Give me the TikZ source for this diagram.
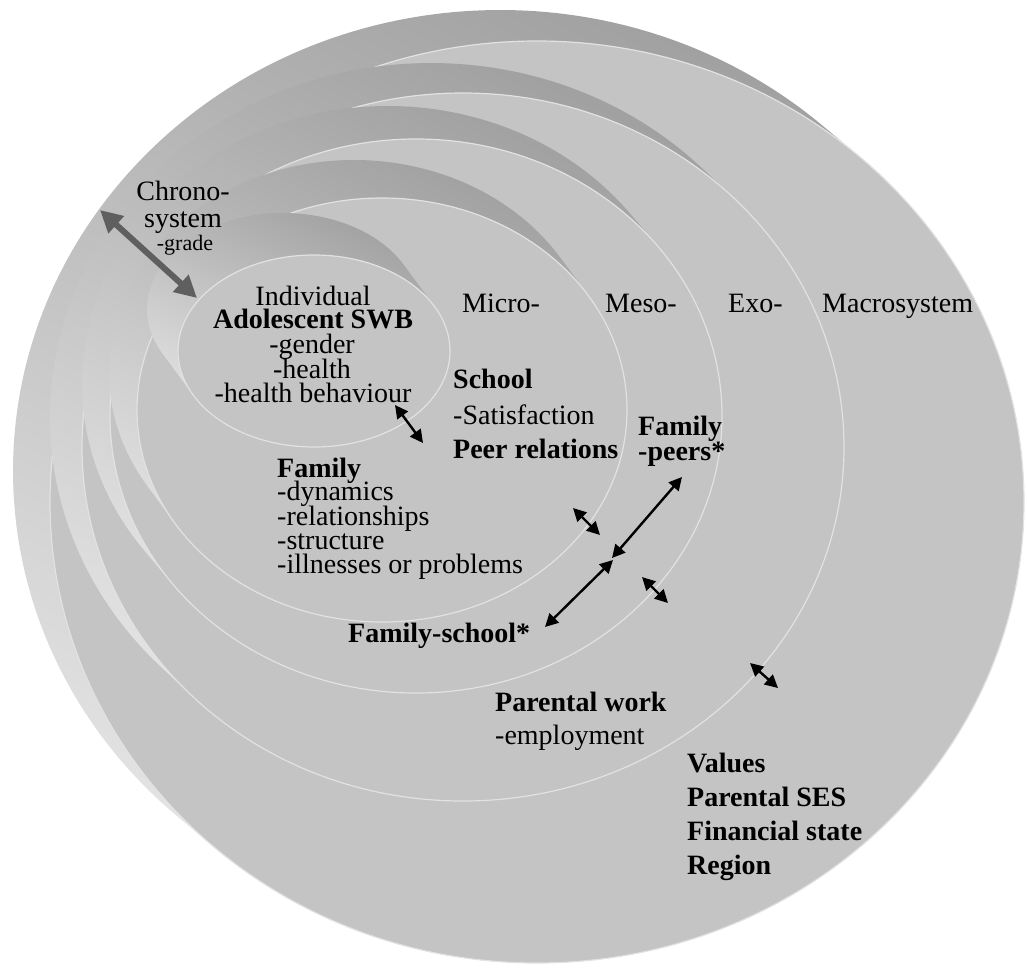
\documentclass[tikz,border=0pt]{standalone}
\usepackage{fontspec}
\setmainfont{Liberation Serif}
\usetikzlibrary{arrows.meta,calc}
\definecolor{facegray}{RGB}{196,196,196}
\definecolor{edgegray}{RGB}{226,226,226}
\definecolor{banddark}{RGB}{156,156,156}
\definecolor{bandlight}{RGB}{234,234,234}
\definecolor{chronogray}{RGB}{95,95,95}
% #1 cx, #2 cy (y up), #3 rx, #4 ry, #5 shift left, #6 shift up
\newcommand\sysring[6]{%
  \pgfmathsetmacro\ringT{atan((#4/#3)*(#5/#6))}%
  \pgfmathsetmacro\ringU{\ringT+180}%
  \pgfmathsetmacro\ringV{\ringT+360}%
  \path[band] ({#1-#5+#3*cos(\ringT)},{#2+#6+#4*sin(\ringT)})
     arc[start angle=\ringT, end angle=\ringU, x radius=#3, y radius=#4]
     -- ({#1+#3*cos(\ringU)},{#2+#4*sin(\ringU)})
     arc[start angle=\ringU, end angle=\ringV, x radius=#3, y radius=#4]
     -- cycle;
  \path[face] (#1,#2) ellipse [x radius=#3, y radius=#4];
}
\tikzset{
  band/.style={top color=banddark, bottom color=bandlight, shading angle=-25, draw=none},
  face/.style={fill=facegray, draw=edgegray, line width=1.2pt},
  txt/.style={font=\fontsize{28}{28}\selectfont, inner sep=0pt, text=black},
  bftxt/.style={font=\fontsize{28}{28}\selectfont\bfseries, inner sep=0pt, text=black},
  smalltxt/.style={font=\fontsize{22}{22}\selectfont, inner sep=0pt, text=black},
  dbl/.style={line width=2.4pt, black, {Triangle[length=13pt,width=13pt]}-{Triangle[length=13pt,width=13pt]}},
  chrono/.style={line width=6pt, chronogray, {Triangle[length=22pt,width=22pt]}-{Triangle[length=22pt,width=22pt]}}
}
\begin{document}
\begin{tikzpicture}[x=1pt,y=1pt]
\useasboundingbox (0,0) rectangle (1027,-967);
% rings: macro, exo, meso, micro, individual
\sysring{537}{-502}{487}{461}{37}{31}
\sysring{463}{-447}{381}{354}{32}{30}
\sysring{416}{-416}{306}{277}{28}{33}
\sysring{382}{-410}{245}{212}{28}{38}
\sysring{314}{-351}{136}{96}{31}{42}

% Chronosystem
\node[txt, anchor=base] (chr1) at (183,-200) {Chrono-};
\node[txt, anchor=base] (chr2) at (183,-227) {system};
\node[smalltxt, anchor=base] (chr3) at (185,-250) {-grade};

% Individual
\node[txt, anchor=base] (ind1) at (313,-305) {Individual};
\node[bftxt, anchor=base] (ind2) at (313,-328) {Adolescent SWB};
\node[txt, anchor=base] (ind3) at (312,-353) {-gender};
\node[txt, anchor=base] (ind4) at (312,-378) {-health};
\node[txt, anchor=base] (ind5) at (313,-402) {-health behaviour};

% level labels
\node[txt, anchor=base west] (micro) at (462,-312) {Micro-};
\node[txt, anchor=base west] (meso) at (605,-312) {Meso-};
\node[txt, anchor=base west] (exo) at (728,-312) {Exo-};
\node[txt, anchor=base west] (macro) at (822,-312) {Macrosystem};

% School
\node[bftxt, anchor=base west] (sch1) at (453,-388) {School};
\node[txt, anchor=base west] (sch2) at (453,-424) {-Satisfaction};
\node[bftxt, anchor=base west] (sch3) at (453,-458) {Peer relations};

% Family-peers
\node[bftxt, anchor=base west] (fp1) at (638,-435) {Family};
\node[bftxt, anchor=base west] (fp2) at (638,-460) {-peers*};

% Family
\node[bftxt, anchor=base west] (fam1) at (277,-477) {Family};
\node[txt, anchor=base west] (fam2) at (277,-500) {-dynamics};
\node[txt, anchor=base west] (fam3) at (277,-525) {-relationships};
\node[txt, anchor=base west] (fam4) at (277,-549) {-structure};
\node[txt, anchor=base west] (fam5) at (277,-573) {-illnesses or problems};

% Family-school
\node[bftxt, anchor=base west] (fs) at (348,-642) {Family-school*};

% Parental work
\node[bftxt, anchor=base west] (pw1) at (495,-711) {Parental work};
\node[txt, anchor=base west] (pw2) at (495,-744) {-employment};

% Macro items
\node[bftxt, anchor=base west] (mac1) at (687,-772) {Values};
\node[bftxt, anchor=base west] (mac2) at (687,-806) {Parental SES};
\node[bftxt, anchor=base west] (mac3) at (687,-840) {Financial state};
\node[bftxt, anchor=base west] (mac4) at (687,-874) {Region};

% arrows
\coordinate (chA) at (100,-210);
\coordinate (chB) at (197,-298);
\draw[chrono] (chA) -- (chB);

\coordinate (s1a) at (395,-405);
\coordinate (s1b) at (423,-443);
\coordinate (s2a) at (573,-508);
\coordinate (s2b) at (600,-535);
\coordinate (s3a) at (642,-577);
\coordinate (s3b) at (668,-603);
\coordinate (s4a) at (750,-663);
\coordinate (s4b) at (778,-688);
\draw[dbl] (s1a) -- (s1b);
\draw[dbl] (s2a) -- (s2b);
\draw[dbl] (s3a) -- (s3b);
\draw[dbl] (s4a) -- (s4b);

\coordinate (hubU) at (612,-558);
\coordinate (hubL) at (613,-560);
\coordinate (peerEnd) at (682,-477);
\coordinate (schoolEnd) at (545,-627);
\draw[dbl] (peerEnd) -- (hubU);
\draw[dbl] (schoolEnd) -- (hubL);
\end{tikzpicture}
\end{document}
